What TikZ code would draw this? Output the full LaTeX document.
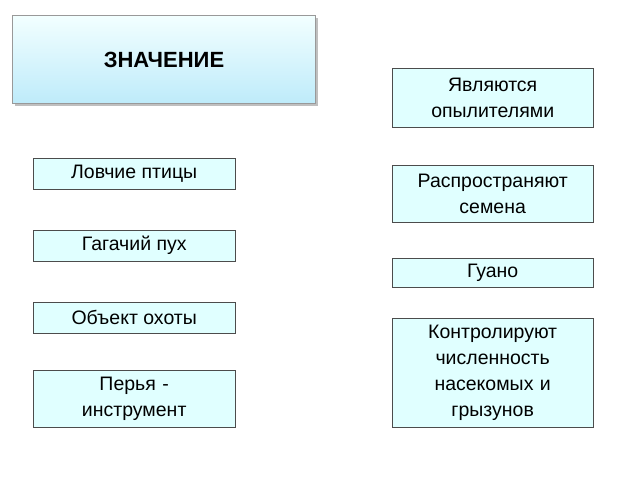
\documentclass[tikz,border=0pt]{standalone}
\usepackage{fontspec}
\setmainfont{Liberation Sans}
\usetikzlibrary{shadows}
\definecolor{boxfill}{RGB}{224,255,255}
\definecolor{titlelow}{RGB}{190,235,250}
\begin{document}
\begin{tikzpicture}[x=1pt,y=-1pt]
  \tikzstyle{box}=[draw=black!70,fill=boxfill,align=center,inner sep=2pt,
    font=\fontsize{19.5}{26}\selectfont]
  \useasboundingbox (0,0) rectangle (640,480);
  \node[draw=gray!80,line width=1pt,top color=white!95!cyan,bottom color=titlelow,drop shadow,
    minimum width=303pt,minimum height=88pt,font=\fontsize{22}{26}\selectfont\bfseries,
    anchor=north west] (title) at (12,15) {ЗНАЧЕНИЕ};
  % left column
  \node[box,minimum width=202pt,minimum height=31pt,anchor=north west] (hunt) at (33,158) {Ловчие птицы};
  \node[box,minimum width=202pt,minimum height=31pt,anchor=north west] (down) at (33,230) {Гагачий пух};
  \node[box,minimum width=202pt,minimum height=31pt,anchor=north west] (game) at (33,302) {Объект охоты};
  \node[box,minimum width=202pt,minimum height=57pt,anchor=north west,text width=196pt] (pens) at (33,370) {Перья -\\инструмент};
  % right column
  \node[box,minimum width=201pt,minimum height=59pt,anchor=north west,text width=195pt] (poll) at (392,68) {Являются\\опылителями};
  \node[box,minimum width=201pt,minimum height=57pt,anchor=north west,text width=195pt] (seed) at (392,165) {Распространяют\\семена};
  \node[box,minimum width=201pt,minimum height=29pt,anchor=north west] (guano) at (392,258) {Гуано};
  \node[box,minimum width=201pt,minimum height=109pt,anchor=north west,text width=195pt] (ctrl) at (392,318) {Контролируют\\численность\\насекомых и\\грызунов};
\end{tikzpicture}
\end{document}
